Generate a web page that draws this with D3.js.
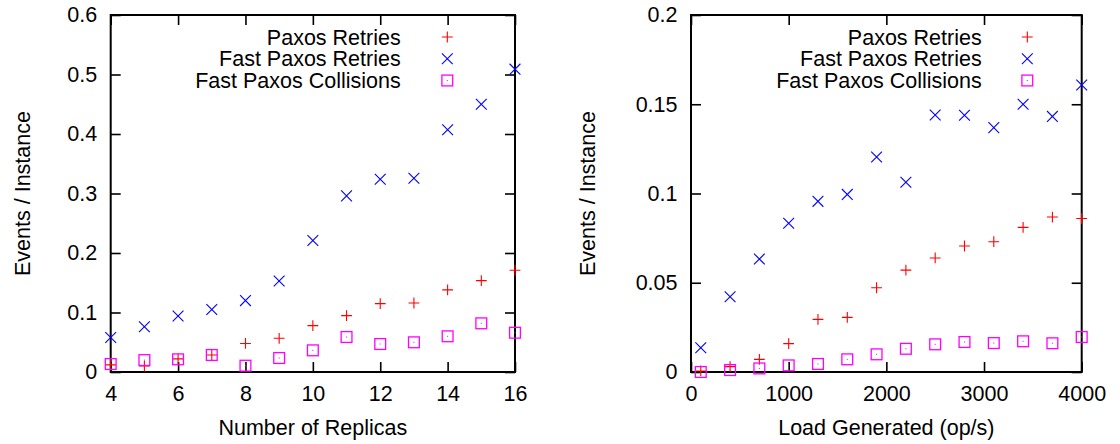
<!DOCTYPE html>
<html><head><meta charset="utf-8">
<script src="https://cdn.jsdelivr.net/npm/d3@7"></script>
<style>
html,body{margin:0;padding:0;background:#fff;}
svg{display:block;}
text{font-family:"Liberation Sans",Arial,Helvetica,sans-serif;font-size:21.5px;fill:#000;}
</style></head><body>
<svg id="chart" width="1120" height="444"></svg>
<script>
// ---- Data ----
const seriesNames = ["Paxos Retries", "Fast Paxos Retries", "Fast Paxos Collisions"];

const replicas = [4,5,6,7,8,9,10,11,12,13,14,15,16];
const leftPaxosRetries     = [0.012,0.010,0.022,0.0286,0.048,0.0566,0.078,0.0947,0.115,0.116,0.138,0.1535,0.171];
const leftFastPaxosRetries = [0.058,0.076,0.094,0.105,0.120,0.153,0.221,0.296,0.324,0.3255,0.407,0.450,0.509];
const leftFastCollisions   = [0.0134,0.020,0.0213,0.0286,0.0106,0.0235,0.0364,0.0588,0.047,0.0499,0.060,0.0818,0.066];

const load = [100,400,700,1000,1300,1600,1900,2200,2500,2800,3100,3400,3700,4000];
const rightPaxosRetries     = [0.0006,0.003,0.0071,0.0159,0.0295,0.0306,0.0472,0.0571,0.0639,0.0706,0.073,0.081,0.0868,0.086];
const rightFastPaxosRetries = [0.0136,0.0422,0.0633,0.0833,0.0956,0.0995,0.1204,0.1063,0.144,0.1438,0.1369,0.150,0.1432,0.1608];
const rightFastCollisions   = [0.0,0.0011,0.002,0.0037,0.0045,0.0071,0.0099,0.013,0.0155,0.0168,0.0162,0.0172,0.0161,0.0196];

const leftXTicks = [4,6,8,10,12,14,16];
const leftYTicks = [0,0.1,0.2,0.3,0.4,0.5,0.6];
const rightXTicks = [0,1000,2000,3000,4000];
const rightYTicks = [0,0.05,0.1,0.15,0.2];

const colors = ["#ff0000","#0000ff","#ff00ff"];
const shapes = ["plus","cross","square"];

// ---- Drawing ----
const svg = d3.select("#chart");

function marker(g, shape, color, x, y) {
  const s = 5.4;
  if (shape === "plus") {
    g.append("path").attr("d", `M${x-s},${y}H${x+s}M${x},${y-s}V${y+s}`)
      .attr("stroke", color).attr("stroke-width", 1.1).attr("fill", "none");
  } else if (shape === "cross") {
    g.append("path").attr("d", `M${x-s},${y-s}L${x+s},${y+s}M${x-s},${y+s}L${x+s},${y-s}`)
      .attr("stroke", color).attr("stroke-width", 1.1).attr("fill", "none");
  } else {
    g.append("rect").attr("x", x-s).attr("y", y-s).attr("width", 2*s).attr("height", 2*s)
      .attr("stroke", color).attr("stroke-width", 1.3).attr("fill", "none");
    g.append("rect").attr("x", x-0.5).attr("y", y-0.5).attr("width", 1).attr("height", 1)
      .attr("fill", color);
  }
}

function panel(cfg) {
  const x = d3.scaleLinear().domain(cfg.xDomain).range([cfg.left, cfg.right]);
  const y = d3.scaleLinear().domain(cfg.yDomain).range([cfg.bottom, cfg.top]);
  const g = svg.append("g");

  const tk = 10;
  const axB = g.append("g").attr("transform", `translate(0,${cfg.bottom})`)
    .call(d3.axisBottom(x).tickValues(cfg.xTicks).tickSize(-tk).tickPadding(14.2).tickFormat(d3.format("d")));
  const axL = g.append("g").attr("transform", `translate(${cfg.left},0)`)
    .call(d3.axisLeft(y).tickValues(cfg.yTicks).tickSize(-tk).tickPadding(13.5).tickFormat(d => d === 0 ? "0" : String(+d.toFixed(3))));
  const axT = g.append("g").attr("transform", `translate(0,${cfg.top})`)
    .call(d3.axisTop(x).tickValues(cfg.xTicks).tickSize(-tk).tickFormat(""));
  const axR = g.append("g").attr("transform", `translate(${cfg.right},0)`)
    .call(d3.axisRight(y).tickValues(cfg.yTicks).tickSize(-tk).tickFormat(""));
  [axB, axL, axT, axR].forEach(a => {
    a.select(".domain").remove();
    a.selectAll(".tick line").attr("stroke", "#000").attr("stroke-width", 1.6);
    a.selectAll("text").attr("font-size", null).attr("font-family", null).attr("fill", "#000");
    a.attr("font-size", null).attr("font-family", null);
  });

  g.append("rect").attr("x", cfg.left).attr("y", cfg.top)
    .attr("width", cfg.right - cfg.left).attr("height", cfg.bottom - cfg.top)
    .attr("fill", "none").attr("stroke", "#000").attr("stroke-width", 2);

  // titles
  g.append("text").attr("x", (cfg.left + cfg.right) / 2).attr("y", 434.5)
    .attr("text-anchor", "middle").text(cfg.xTitle);
  g.append("text").attr("transform", `translate(${cfg.yTitleX},${(cfg.top + cfg.bottom) / 2}) rotate(-90)`)
    .attr("text-anchor", "middle").text(cfg.yTitle);

  // legend
  const legBase = [44.5, 66.2, 88];
  seriesNames.forEach((name, i) => {
    g.append("text").attr("x", cfg.legTextX).attr("y", legBase[i]).attr("text-anchor", "end").text(name);
    marker(g, shapes[i], colors[i], cfg.legSymX, legBase[i] - 7.5);
  });

  // points
  const pts = g.append("g");
  cfg.series.forEach((vals, i) => {
    vals.forEach((v, j) => marker(pts, shapes[i], colors[i], x(cfg.xs[j]), y(v)));
  });
}

panel({
  xDomain: [4, 16], yDomain: [0, 0.6],
  left: 110.7, right: 515, top: 15, bottom: 372,
  xTicks: leftXTicks, yTicks: leftYTicks,
  xTitle: "Number of Replicas", yTitle: "Events / Instance", yTitleX: 29.5,
  legTextX: 400.7, legSymX: 447.3,
  xs: replicas,
  series: [leftPaxosRetries, leftFastPaxosRetries, leftFastCollisions]
});

panel({
  xDomain: [0, 4000], yDomain: [0, 0.2],
  left: 691, right: 1081.7, top: 15, bottom: 372,
  xTicks: rightXTicks, yTicks: rightYTicks,
  xTitle: "Load Generated (op/s)", yTitle: "Events / Instance", yTitleX: 595,
  legTextX: 981.7, legSymX: 1027.3,
  xs: load,
  series: [rightPaxosRetries, rightFastPaxosRetries, rightFastCollisions]
});
</script>
</body></html>
